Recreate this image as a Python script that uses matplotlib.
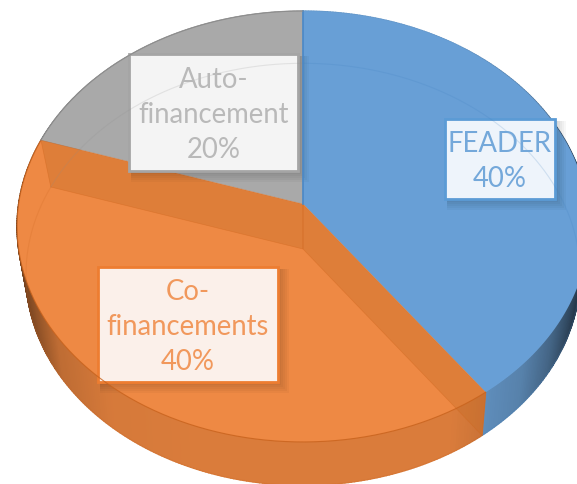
import numpy as np
import matplotlib
matplotlib.use("Agg")
import matplotlib.pyplot as plt
from matplotlib.patches import Polygon, Rectangle

plt.rcParams['font.family'] = ['Lato', 'DejaVu Sans']

# Parts du financement
labels = ["FEADER", "Co-\nfinancements", "Auto-\nfinancement"]
values = [40, 40, 20]

face_colors = ["#689FD6", "#EE8944", "#A9A9A9"]
wall_colors = ["#6DA2D6", "#E8843F", "#A5A5A5"]
edge_colors = ["#5B9BD5", "#ED7D31", "#A5A5A5"]
text_colors = ["#74A8DA", "#F1985C", "#B9B9B9"]
box_colors = ["#EEF4FB", "#FBF0EA", "#F4F4F4"]
# x0, y0, x1, y1 des etiquettes, en pixels
boxes = [(445, 120, 555, 200), (98, 268, 278, 383), (129, 55, 298, 172)]

# perspective de la face superieure et de la face inferieure
TOP = dict(cx=303, cy=205, a=284.4, b=213.1, k=0.1044)
BOTTOM = dict(cx=303, cy=250, a=275, b=208, k=0.12)


def project(u, v, cx, cy, a, b, k):
    d = 1 + k * v
    return cx + a * u / d, cy - b * v / d


def rim(t1, t2, view, n=240):
    t = np.radians(np.linspace(t1, t2, n))
    return project(np.cos(t), np.sin(t), **view)


def shade(x):
    return np.interp(x, [15, 30, 60, 110, 200, 450, 520, 550, 578],
                     [0.38, 0.55, 0.82, 0.92, 0.94, 0.94, 0.80, 0.62, 0.35])


fig = plt.figure(figsize=(5.77, 4.85), dpi=100)
ax_pie = fig.add_axes([0, 0, 1, 1])
wedges, _ = ax_pie.pie(values, startangle=90, counterclock=False, radius=1)
ax_pie.set_visible(False)

ax = fig.add_axes([0, 0, 1, 1])
ax.set_xlim(0, 577)
ax.set_ylim(485, 0)
ax.axis("off")

# parois exterieures
for w, col in zip(wedges, wall_colors):
    xt, yt = rim(w.theta1, w.theta2, TOP)
    xb, yb = rim(w.theta1, w.theta2, BOTTOM)
    base = np.array(matplotlib.colors.to_rgb(col))
    for i in range(len(xt) - 1):
        s = shade((xt[i] + xb[i]) / 2)
        ax.add_patch(Polygon([(xt[i], yt[i]), (xt[i + 1], yt[i + 1]),
                              (xb[i + 1], yb[i + 1]), (xb[i], yb[i])],
                             closed=True, fc=base * s, ec=base * s, lw=1.0))

# faces superieures
for w, col, ecol in zip(wedges, face_colors, edge_colors):
    xt, yt = rim(w.theta1, w.theta2, TOP)
    pts = np.column_stack([np.r_[TOP["cx"], xt], np.r_[TOP["cy"], yt]])
    ax.add_patch(Polygon(pts, closed=True, fc=col, ec="none"))

# parois interieures vues par transparence (orange)
orange = wedges[1]
for t in (orange.theta1, orange.theta2):
    xt, yt = project(np.cos(np.radians(t)), np.sin(np.radians(t)), **TOP)
    xb, yb = project(np.cos(np.radians(t)), np.sin(np.radians(t)), **BOTTOM)
    ax.add_patch(Polygon([(TOP["cx"], TOP["cy"]), (xt, yt), (xb, yb),
                          (BOTTOM["cx"], BOTTOM["cy"])],
                         closed=True, fc="#C96F2A", ec="#D0651C", lw=0.5, alpha=0.42))

# contours des faces
xt, yt = rim(orange.theta1, orange.theta2, TOP)
ax.plot(xt, yt, color="#C8621C", lw=0.8, alpha=0.8)
for w, col in zip(wedges, ["#3F7FBF", "#C8621C", "#8C8C8C"]):
    xb, yb = rim(w.theta1, w.theta2, BOTTOM)
    ax.plot(xb, yb, color=col, lw=0.8, alpha=0.18)
ax.plot([TOP["cx"], TOP["cx"]], [12, TOP["cy"]], color="#4A88C7", lw=1.2)
xt, yt = rim(wedges[2].theta1, wedges[2].theta2, TOP)
ax.plot(xt, yt, color="#8C8C8C", lw=0.7)

# etiquettes
for lab, val, (x0, y0, x1, y1), ecol, fcol, tcol in zip(
        labels, values, boxes, edge_colors, box_colors, text_colors):
    for off in range(9, 0, -2):
        ax.add_patch(Rectangle((x0 + 2, y0 + 2), x1 - x0 + off, y1 - y0 + off,
                               fc="black", ec="none", alpha=0.03))
    ax.add_patch(Rectangle((x0, y0), x1 - x0, y1 - y0, fc=fcol, ec=ecol, lw=2))
    ax.text((x0 + x1) / 2, (y0 + y1) / 2 + 1.5, f"{lab}\n{val}%", ha="center", va="center",
            fontsize=19.8, color=tcol, linespacing=1.42)

fig.savefig("out.png", dpi=100)
